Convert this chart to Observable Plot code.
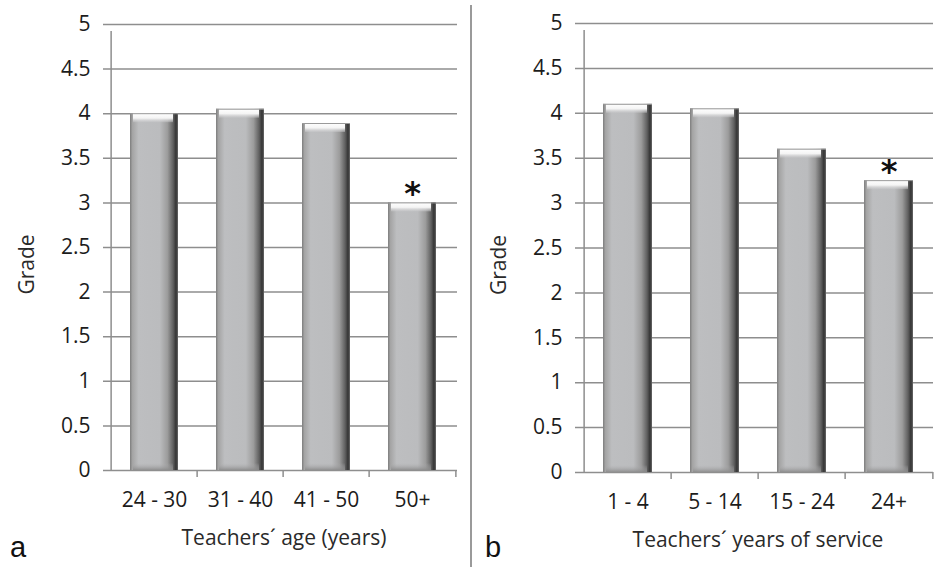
<!DOCTYPE html>
<html>
<head>
<meta charset="utf-8">
<script src="https://cdn.jsdelivr.net/npm/d3@7"></script>
<script src="https://cdn.jsdelivr.net/npm/@observablehq/plot@0.6"></script>
<style>
  html, body { margin: 0; padding: 0; background: #fff; }
  #wrap { position: relative; width: 942px; height: 567px; overflow: hidden; font-family: "Open Sans", sans-serif; }
  .panel { position: absolute; top: 0; }
  .letter { position: absolute; font-family: "Liberation Sans", Arial, sans-serif; font-size: 29px; color: #111; line-height: 1; }
  #divider { position: absolute; left: 470px; top: 5px; width: 2px; height: 562px; background: #9a9a9a; }
</style>
</head>
<body>
<div id="wrap">
  <div id="left" class="panel" style="left:0px"></div>
  <div id="divider"></div>
  <div id="right" class="panel" style="left:471px"></div>
</div>
<script>
// ---- data ----
const ageGroups = ["24 - 30", "31 - 40", "41 - 50", "50+"];
const ageGrades = [4.0, 4.05, 3.89, 3.0];
const ageSignificant = [false, false, false, true];

const serviceGroups = ["1 - 4", "5 - 14", "15 - 24", "24+"];
const serviceGrades = [4.1, 4.05, 3.6, 3.25];
const serviceSignificant = [false, false, false, true];

const yTicks = [0, 0.5, 1, 1.5, 2, 2.5, 3, 3.5, 4, 4.5, 5];
const yTitle = "Grade";
const xTitles = ["Teachers\u00B4 age (years)", "Teachers\u00B4 years of service"];
const panelLetters = ["a", "b"];

const gridColor = "#8e8e8e";

function panel({id, cats, vals, sig, xTitle, width, height, ml, mr, mt, mb}) {
  const rows = cats.map((c, i) => ({cat: c, grade: vals[i], sig: sig[i]}));
  const step = (width - ml - mr) / cats.length;
  const pxPerUnit = (height - mt - mb) / (yTicks[yTicks.length - 1] - yTicks[0]);
  const capH = 9 / pxPerUnit;
  const baseH = 7 / pxPerUnit;
  const yMax = yTicks[yTicks.length - 1];

  const chart = Plot.plot({
    width, height,
    marginLeft: ml, marginRight: mr, marginTop: mt, marginBottom: mb,
    style: {fontFamily: "'Open Sans', sans-serif", fontSize: "21px", color: "#1c1c1c", background: "transparent", overflow: "visible"},
    x: {domain: cats, paddingInner: 0.44, paddingOuter: 0.22},
    y: {domain: [yTicks[0], yMax]},
    marks: [
      Plot.ruleY(yTicks, {stroke: gridColor, strokeWidth: 1.5, insetLeft: -7}),
      Plot.ruleX([cats[0]], {dx: -step / 2, y1: yTicks[0], y2: yMax, insetBottom: -7, stroke: gridColor, strokeWidth: 1.5}),
      Plot.ruleX(cats.slice(1), {dx: -step / 2, y1: yTicks[0], y2: yTicks[0], insetBottom: -7, stroke: gridColor, strokeWidth: 1.5}),
      Plot.ruleX([cats[cats.length - 1]], {dx: step / 2, y1: yTicks[0], y2: yTicks[0], insetBottom: -7, stroke: gridColor, strokeWidth: 1.5}),
      // bar body
      Plot.barY(rows, {x: "cat", y: "grade", fill: `url(#body-${id})`}),
      // bottom bevel
      Plot.barY(rows, {x: "cat", y1: 0, y2: baseH, fill: `url(#base-${id})`, insetLeft: 3, insetRight: 5}),
      // top cap highlight
      Plot.barY(rows, {x: "cat", y1: d => d.grade - capH, y2: "grade", fill: `url(#cap-${id})`, insetLeft: 3, insetRight: 5}),
      Plot.ruleY(rows, {x1: "cat", x2: "cat", y: "grade", stroke: "#9a9a9a", strokeWidth: 1}),
      Plot.text(rows.filter(d => d.sig), {x: "cat", y: "grade", text: () => "*", lineAnchor: "bottom", dy: 1, fontSize: 32, fontWeight: "bold", fontFamily: "DejaVu Sans", fill: "#111"}),
      Plot.axisY(yTicks, {tickSize: 0, tickPadding: 20, label: null, tickFormat: d => String(d), fontSize: 21}),
      Plot.axisX({tickSize: 0, tickPadding: 22, label: null, fontSize: 21}),
      Plot.text([yTitle], {frameAnchor: "left", dx: -83, dy: 17, rotate: -90, textAnchor: "middle", lineAnchor: "middle", fontSize: 21, fill: "#2a2a2a"}),
      Plot.text([xTitle], {frameAnchor: "bottom", dy: 68, textAnchor: "middle", lineAnchor: "middle", fontSize: 21, fill: "#2a2a2a"})
    ]
  });

  const defs = `
  <defs>
    <linearGradient id="body-${id}" x1="0" x2="1" y1="0" y2="0">
      <stop offset="0" stop-color="#7d7d7d"/>
      <stop offset="0.05" stop-color="#a4a4a4"/>
      <stop offset="0.18" stop-color="#bdbec0"/>
      <stop offset="0.62" stop-color="#bbbcbe"/>
      <stop offset="0.78" stop-color="#9c9c9c"/>
      <stop offset="0.9" stop-color="#5f5f5f"/>
      <stop offset="0.96" stop-color="#333"/>
      <stop offset="1" stop-color="#6a6a6a"/>
    </linearGradient>
    <linearGradient id="cap-${id}" x1="0" x2="0" y1="0" y2="1">
      <stop offset="0" stop-color="#ffffff"/>
      <stop offset="0.55" stop-color="#f4f4f4"/>
      <stop offset="1" stop-color="#c9c9cb" stop-opacity="0.4"/>
    </linearGradient>
    <linearGradient id="base-${id}" x1="0" x2="0" y1="0" y2="1">
      <stop offset="0" stop-color="#b0b0b2" stop-opacity="0"/>
      <stop offset="1" stop-color="#8a8a8a" stop-opacity="0.9"/>
    </linearGradient>
  </defs>`;
  chart.insertAdjacentHTML("afterbegin", defs);
  document.getElementById(id).appendChild(chart);
}

panel({id: "left", cats: ageGroups, vals: ageGrades, sig: ageSignificant, xTitle: xTitles[0],
       width: 470, height: 567, ml: 110, mr: 13, mt: 24, mb: 97});
panel({id: "right", cats: serviceGroups, vals: serviceGrades, sig: serviceSignificant, xTitle: xTitles[1],
       width: 471, height: 567, ml: 111, mr: 9, mt: 23, mb: 95});

const wrap = document.getElementById("wrap");
[[panelLetters[0], 10], [panelLetters[1], 485]].forEach(([t, x]) => {
  const el = document.createElement("div");
  el.className = "letter";
  el.textContent = t;
  el.style.left = x + "px";
  el.style.top = "533px";
  wrap.appendChild(el);
});
</script>
</body>
</html>
